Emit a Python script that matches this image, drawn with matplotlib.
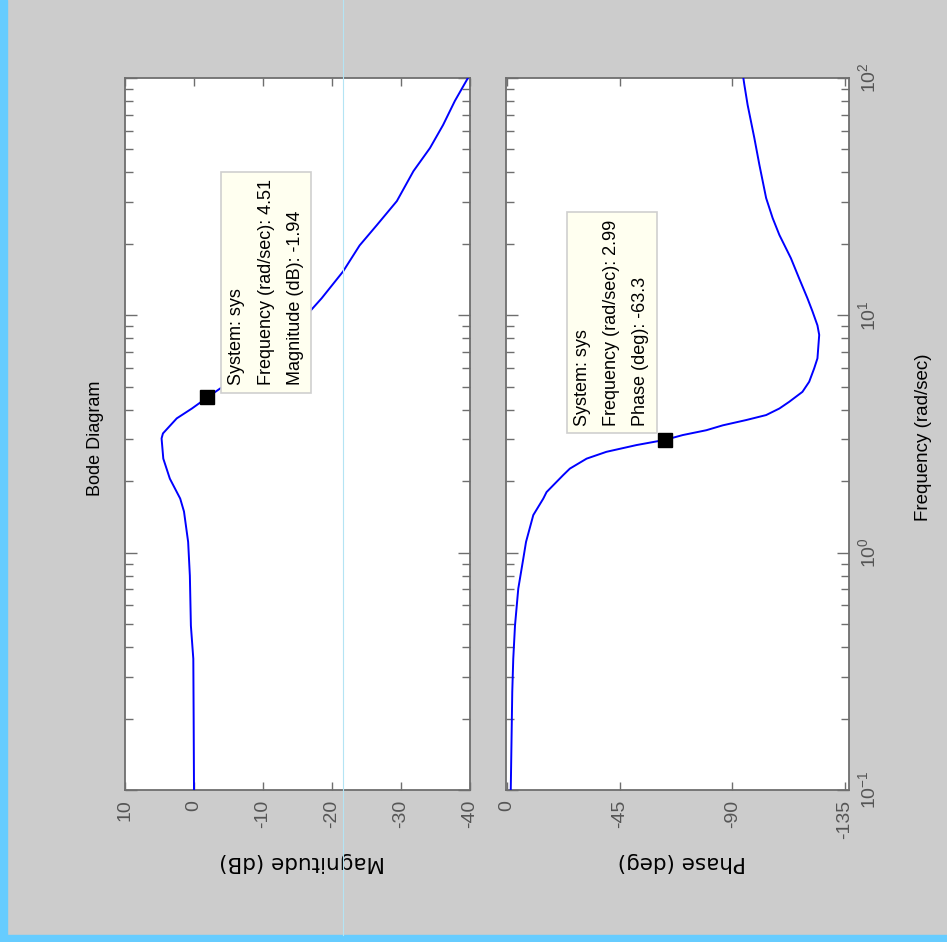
import matplotlib
matplotlib.use("Agg")
import matplotlib.pyplot as plt
from matplotlib import font_manager
from matplotlib.lines import Line2D
from matplotlib.patches import Rectangle

# Bode diagram (rotated view)
mag_freq = [0.1, 0.2, 0.357, 0.492, 0.80, 1.11, 1.49, 1.69, 2.05, 2.49, 3.03, 3.18,
            3.68, 4.05, 4.51, 4.92, 6.0, 7.5, 9.5, 11.8, 15.3, 19.7, 24.0, 30.3,
            40.5, 50.7, 63.4, 80.0, 100.0]
mag_db = [0.0, 0.05, 0.1, 0.45, 0.6, 0.85, 1.45, 2.0, 3.5, 4.45, 4.7, 4.5,
          2.5, 0.3, -1.94, -3.8, -8.0, -12.0, -15.6, -18.5, -21.6, -24.0, -26.5, -29.4,
          -31.8, -34.2, -36.1, -37.8, -39.7]

phase_freq = [0.1, 0.259, 0.357, 0.494, 0.705, 0.943, 1.11, 1.44, 1.69, 1.80, 2.12,
              2.26, 2.49, 2.66, 2.84, 2.99, 3.13, 3.28, 3.44, 3.62, 3.80, 4.05, 4.32,
              4.76, 5.25, 5.98, 6.59, 8.27, 9.07, 10.4, 11.8, 14.3, 17.4, 21.8, 25.7,
              31.2, 43.1, 55.8, 77.1, 93.7, 100.0]
phase_deg = [-1.5, -2.1, -2.5, -3.2, -4.5, -6.5, -7.6, -10.5, -14.5, -15.8, -22.4,
             -25.1, -31.8, -39.7, -51.7, -63.3, -70.2, -79.6, -86.2, -95.5, -103.5, -108.8, -112.7,
             -118.0, -120.7, -122.7, -124.0, -124.7, -124.0, -122.0, -120.0, -116.7, -113.4, -108.8, -106.1,
             -103.5, -100.8, -98.8, -96.1, -94.8, -94.4]

mag_ticks = [10, 0, -10, -20, -30, -40]
phase_ticks = [0, -45, -90, -135]
freq_ticks = [0.1, 1, 10, 100]
freq_labels = [r"$\mathregular{10^{-1}}$", r"$\mathregular{10^{0}}$",
               r"$\mathregular{10^{1}}$", r"$\mathregular{10^{2}}$"]

tip_mag = (4.51, -1.94)
tip_phase = (2.99, -63.3)

names = {f.name for f in font_manager.fontManager.ttflist}
narrow = "Liberation Sans Narrow" if "Liberation Sans Narrow" in names else "Liberation Sans"
plt.rcParams["font.family"] = [narrow, "DejaVu Sans"]
plt.rcParams["mathtext.fontset"] = "custom"
plt.rcParams["mathtext.rm"] = narrow

W, H = 947, 942
fig = plt.figure(figsize=(W / 100, H / 100), dpi=100, facecolor="#CCCCCC")

def box(l, t, r, b):
    return [l / W, 1 - b / H, (r - l) / W, (b - t) / H]

ax_m = fig.add_axes(box(125, 78, 470, 790))
ax_p = fig.add_axes(box(506, 78, 849, 790))

spine_c = "#6E6E6E"
label_c = "#555555"

for ax in (ax_m, ax_p):
    ax.set_yscale("log")
    ax.set_ylim(0.1, 100)
    ax.set_facecolor("white")
    for s in ax.spines.values():
        s.set_color(spine_c)
        s.set_linewidth(1.3)
    ax.tick_params(axis="y", which="major", direction="in", left=True, right=True,
                   length=8.5, width=1.0, color=spine_c, labelleft=False, labelright=False)
    ax.tick_params(axis="y", which="minor", direction="in", left=True, right=True,
                   length=5.5, width=1.0, color=spine_c)
    ax.tick_params(axis="x", direction="in", top=True, bottom=True, length=6,
                   width=1.0, color=spine_c, pad=7, labelsize=14, labelcolor=label_c)
    ax.set_yticks(freq_ticks)

tip_style = dict(rotation=90, fontsize=13, linespacing=1.95, multialignment="left",
                 bbox=dict(boxstyle="square,pad=0.4", fc="#FFFFF0", ec="#CFCFCF", lw=1.2),
                 zorder=6)

# magnitude panel
ax_m.plot(mag_db, mag_freq, color="#0000FF", lw=1.4, zorder=3)
ax_m.set_xlim(10, -40)
ax_m.set_xticks(mag_ticks)
ax_m.set_xticklabels([str(v) for v in mag_ticks], rotation=90)
ax_m.set_yticklabels([])
ax_m.plot(tip_mag[1], tip_mag[0], marker="s", ms=10, color="black", zorder=5)
ax_m.annotate("System: sys\nFrequency (rad/sec): 4.51\nMagnitude (dB): -1.94",
              xy=(tip_mag[1], tip_mag[0]), xytext=(21, 12), textcoords="offset pixels",
              ha="left", va="bottom", **tip_style)

# phase panel
ax_p.plot(phase_deg, phase_freq, color="#0000FF", lw=1.4, zorder=3)
ax_p.set_xlim(0.4, -136.6)
ax_p.set_xticks(phase_ticks)
ax_p.set_xticklabels([str(v) for v in phase_ticks], rotation=90)
ax_p.set_yticklabels(freq_labels)
ax_p.tick_params(axis="y", which="major", labelright=True, pad=6, labelsize=14,
                 labelcolor=label_c)
for t in ax_p.get_yticklabels():
    t.set_rotation(90)
    t.set_va("center")
ax_p.plot(tip_phase[1], tip_phase[0], marker="s", ms=10, color="black", zorder=5)
ax_p.annotate("System: sys\nFrequency (rad/sec): 2.99\nPhase (deg): -63.3",
              xy=(tip_phase[1], tip_phase[0]), xytext=(-16, 14), textcoords="offset pixels",
              ha="right", va="bottom", **tip_style)

# titles and axis labels
fig.text(95 / W, 1 - 438 / H, "Bode Diagram", rotation=90, ha="center", va="center",
         fontsize=13, color="black")
fig.text(923 / W, 1 - 437 / H, "Frequency (rad/sec)", rotation=90, ha="center",
         va="center", fontsize=13.5, color="black")
fig.text(302 / W, 1 - 862 / H, "Magnitude (dB)", rotation=180, ha="center", va="center",
         fontsize=15.5, family="DejaVu Sans", color="black")
fig.text(682 / W, 1 - 862 / H, "Phase (deg)", rotation=180, ha="center", va="center",
         fontsize=15.5, family="DejaVu Sans", color="black")

# window frame
fig.add_artist(Rectangle((0, 0), 7 / W, 1, transform=fig.transFigure,
                         color="#66CCFF", zorder=0))
fig.add_artist(Rectangle((0, 0), 1, 7 / H, transform=fig.transFigure,
                         color="#66CCFF", zorder=0))
fig.add_artist(Line2D([343 / W, 343 / W], [7 / H, 1], transform=fig.transFigure,
                      color="#B4E4F4", lw=0.8, zorder=10))

fig.savefig("out.png", dpi=100, facecolor=fig.get_facecolor())
